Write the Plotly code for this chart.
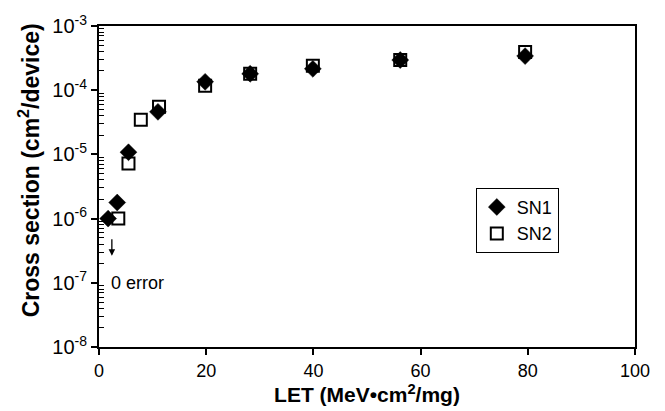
import plotly.graph_objects as go

# Data
sn1_let = [1.7, 3.4, 5.5, 11.0, 19.8, 28.2, 39.9, 56.2, 79.5]
sn1_xs = [1.0e-6, 1.78e-6, 1.08e-5, 4.6e-5, 1.35e-4, 1.8e-4, 2.15e-4, 2.95e-4, 3.4e-4]
sn2_let = [3.6, 5.5, 7.8, 11.2, 19.8, 28.2, 39.9, 56.2, 79.5]
sn2_xs = [1.0e-6, 7.2e-6, 3.45e-5, 5.5e-5, 1.17e-4, 1.8e-4, 2.4e-4, 2.95e-4, 3.95e-4]

y_tickvals = [1e-8, 1e-7, 1e-6, 1e-5, 1e-4, 1e-3]
y_ticktext = ["10<sup>-8</sup>", "10<sup>-7</sup>", "10<sup>-6</sup>",
              "10<sup>-5</sup>", "10<sup>-4</sup>", "10<sup>-3</sup>"]
x_tickvals = [0, 20, 40, 60, 80, 100]

minor_vals = [m * 10.0 ** e for e in range(-8, -3) for m in range(2, 10)]

FONT = "Liberation Sans, Arial, sans-serif"

fig = go.Figure()
fig.add_trace(go.Scatter(
    x=sn1_let, y=sn1_xs, mode="markers", name="SN1",
    marker=dict(symbol="diamond", size=13, color="black",
                line=dict(color="black", width=0.5)),
))
fig.add_trace(go.Scatter(
    x=sn2_let, y=sn2_xs, mode="markers", name="SN2",
    marker=dict(symbol="square-open", size=12, color="black",
                line=dict(color="black", width=2)),
))

fig.add_annotation(x=2.4, y=-6.58, ax=2.4, ay=-6.3, xref="x", yref="y",
                   axref="x", ayref="y", text="", showarrow=True,
                   arrowhead=2, arrowsize=1, arrowwidth=1.3, arrowcolor="black")
fig.add_annotation(x=1.9, y=-7.0, xref="x", yref="y", text="0 error",
                   showarrow=False, xanchor="left", yanchor="middle",
                   font=dict(family=FONT, size=18, color="black"))
# Y-axis title (placed as annotation to match the reference's vertical offset)
fig.add_annotation(x=-0.129, y=0.55, xref="paper", yref="paper",
                   text="<b>Cross section (cm<sup>2</sup>/device)</b>",
                   textangle=-90, showarrow=False,
                   xanchor="center", yanchor="middle",
                   font=dict(family=FONT, size=23, color="black"))

fig.update_layout(
    width=665, height=411,
    margin=dict(l=99, r=30, t=16, b=64),
    paper_bgcolor="white", plot_bgcolor="white",
    font=dict(family=FONT, size=17, color="black"),
    showlegend=True,
    legend=dict(x=0.703, y=0.496, xanchor="left", yanchor="top",
                bordercolor="black", borderwidth=1, bgcolor="white",
                font=dict(family=FONT, size=18, color="black"),
                itemwidth=30, tracegroupgap=0),
)
fig.update_xaxes(
    range=[0, 100], tickmode="array", tickvals=x_tickvals,
    ticks="outside", ticklen=6, tickwidth=1.5, tickcolor="black",
    showline=True, linewidth=2, linecolor="black", mirror=True,
    showgrid=False, zeroline=False,
    title=dict(text="<b>LET (MeV•cm<sup>2</sup>/mg)</b>", standoff=3,
               font=dict(family=FONT, size=21)),
    tickfont=dict(family=FONT, size=18),
)
fig.update_yaxes(
    type="log", range=[-8, -3], tickmode="array", tickvals=y_tickvals,
    ticktext=y_ticktext,
    ticks="outside", ticklen=6, tickwidth=1.5, tickcolor="black",
    minor=dict(tickmode="array", tickvals=minor_vals, ticks="inside",
               ticklen=5, tickwidth=1, tickcolor="black", showgrid=False),
    showline=True, linewidth=2, linecolor="black", mirror=True,
    showgrid=False, zeroline=False,
    tickfont=dict(family=FONT, size=20),
)

fig.write_html("out.html")
